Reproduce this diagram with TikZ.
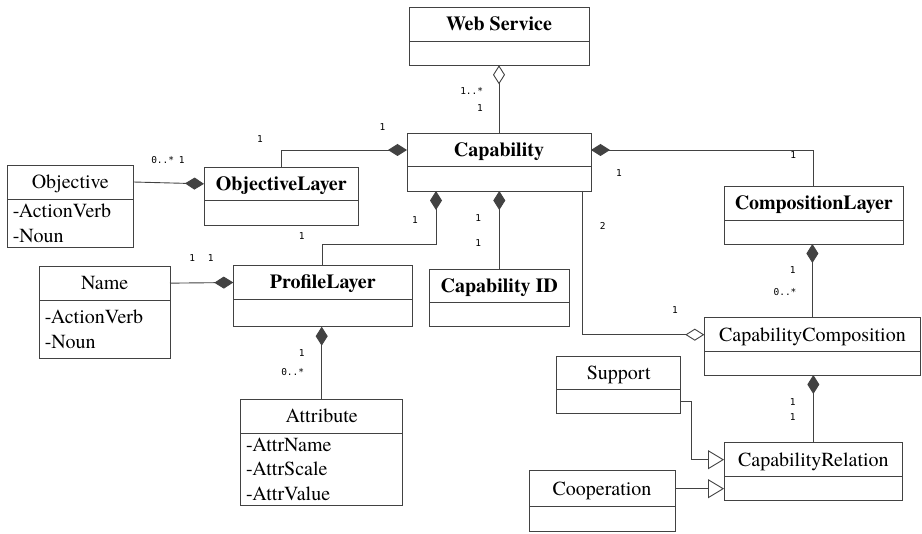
\documentclass[tikz,border=0pt]{standalone}
\usepackage{fontspec}
\setmainfont{TeX Gyre Termes}
\newfontfamily\labfont{DejaVu Sans Mono}
\usetikzlibrary{arrows.meta}
\definecolor{linec}{RGB}{66,66,66}
\newcommand{\mkclass}[8]{%
  % #1 name, #2 x1, #3 y1, #4 x2, #5 ydiv, #6 y2, #7 title, #8 body
  \node[ttl, minimum width={#4pt-#2pt}, minimum height={#5pt-#3pt}] (#1) at (#2,#3) {#7};
  \node[bdy, minimum width={#4pt-#2pt}, minimum height={#6pt-#5pt}, text width={#4pt-#2pt-11pt}] (#1b) at (#1.south west) {#8};
}
\begin{document}
\begin{tikzpicture}[x=1pt,y=-1pt,
  box/.style={draw=linec, line width=0.9pt, inner sep=0pt, outer sep=0pt, anchor=north west},
  ttl/.style={box, font=\fontsize{20}{24}\selectfont, text height=15pt, text depth=2pt},
  bdy/.style={box, align=left, inner xsep=5.5pt, font=\fontsize{20}{24.7}\selectfont},
  lab/.style={font=\labfont\fontsize{9.5}{11}\selectfont, inner sep=0pt},
  comp/.style={draw=linec, line width=0.9pt, -{Diamond[length=19pt,width=12pt,fill=linec]}},
  agg/.style={draw=linec, line width=0.9pt, -{Diamond[open,length=19pt,width=12pt,fill=white]}},
  gen/.style={draw=linec, line width=0.9pt, -{Triangle[open,length=16pt,width=19pt,fill=white]}},
]
\useasboundingbox (0,0) rectangle (922,534);
\fill[white] (0,0) rectangle (922,534);

\mkclass{ws}{409}{7}{589}{41.7}{65.3}{\bfseries Web Service}{}
\mkclass{cap}{407}{133.3}{591}{166.7}{191}{\bfseries Capability}{}
\mkclass{obj}{7.3}{165}{133.3}{199}{247}{Objective}{\fontsize{20}{22.4}\selectfont -ActionVerb\\-Noun}
\mkclass{objl}{204}{167}{358.5}{200.7}{225}{\bfseries ObjectiveLayer}{}
\mkclass{name}{39.3}{266}{170}{300.3}{358.3}{Name}{\fontsize{20}{25}\selectfont -ActionVerb\\-Noun}
\mkclass{prof}{233.3}{265.7}{412.3}{299.3}{326.7}{\bfseries ProfileLayer}{}
\mkclass{cid}{429.3}{269}{569.3}{302.7}{326.7}{\bfseries Capability ID}{}
\mkclass{attr}{240.7}{399.3}{402.7}{433.3}{505}{Attribute}{\fontsize{20}{24.7}\selectfont -AttrName\\-AttrScale\\-AttrValue}
\mkclass{compl}{724.3}{186.7}{903.3}{220}{244}{\bfseries CompositionLayer}{}
\mkclass{cc}{704.3}{317.7}{920.5}{351.7}{375}{CapabilityComposition}{}
\mkclass{sup}{556.7}{356}{680.7}{389.3}{413.3}{Support}{}
\mkclass{cr}{724}{442.7}{902.7}{476.7}{500.7}{CapabilityRelation}{}
\mkclass{coop}{529}{470.7}{675}{506.7}{531.7}{Cooperation}{}

% connectors
\draw[agg] (cap.north) -- (wsb.south);
\draw[comp] (objl.north) |- (cap.west);
\draw[comp] (obj.east) -- (objl.west);
\draw[comp] (name.east) -- (prof.west);
\draw[comp] (prof.north) -- ++(0,-21.7) -| ([xshift=29pt]capb.south west);
\draw[comp] (cid.north) -- (cid.north |- capb.south);
\draw[comp] (compl.north) |- (cap.east);
\draw[agg] ([xshift=-8.3pt]capb.south east) |- (cc.west);
\draw[comp] (cc.north) -- (cc.north |- complb.south);
\draw[comp] (attr.north) -- (attr.north |- profb.south);
\draw[comp] (cr.north) -- (cr.north |- ccb.south);
\draw[gen] (supb.east) -- ++(11,0) |- (cr.west);
\draw[gen] (coop.east) -- (crb.west);

% multiplicities
\node[lab] (m1) at (471.7,90.7) {1..*};
\node[lab] (m2) at (480,108) {1};
\node[lab] (m3) at (260,139.2) {1};
\node[lab] (m4) at (382.5,126.7) {1};
\node[lab] (m5) at (162.7,160) {0..*};
\node[lab] (m6) at (181.7,160.3) {1};
\node[lab] (m7) at (415,220.5) {1};
\node[lab] (m8) at (301.7,236.2) {1};
\node[lab] (m9) at (192.3,258.3) {1};
\node[lab] (m10) at (210.7,258.3) {1};
\node[lab] (m11) at (478.3,217.7) {1};
\node[lab] (m12) at (478.3,242.7) {1};
\node[lab] (m13) at (619,173.3) {1};
\node[lab] (m14) at (793.3,155.3) {1};
\node[lab] (m15) at (602.7,226) {2};
\node[lab] (m16) at (792.7,270) {1};
\node[lab] (m17) at (785,291.7) {0..*};
\node[lab] (m18) at (675,310) {1};
\node[lab] (m19) at (792.7,401.7) {1};
\node[lab] (m20) at (792.7,417.3) {1};
\node[lab] (m21) at (301.7,352.7) {1};
\node[lab] (m22) at (292.7,372.3) {0..*};
\end{tikzpicture}
\end{document}
